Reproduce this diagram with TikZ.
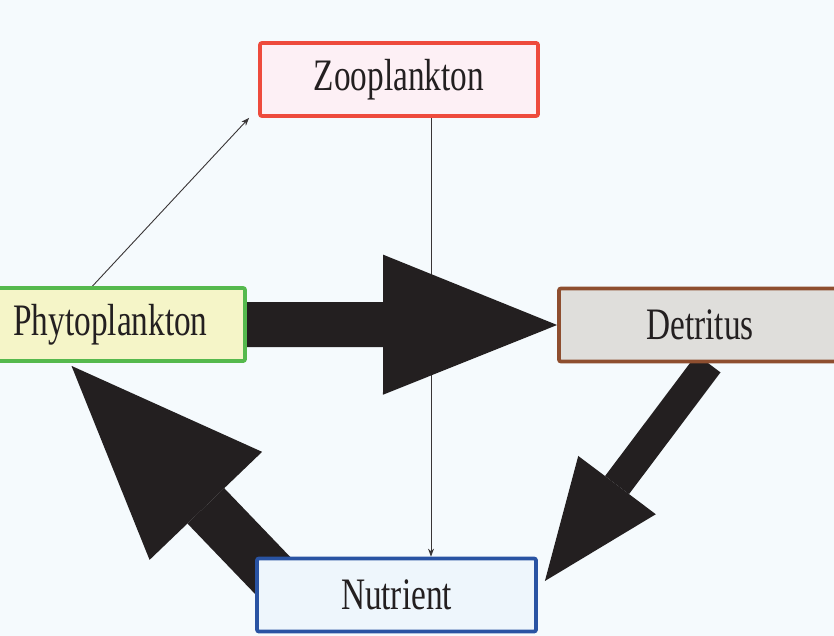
\documentclass[tikz,border=0pt]{standalone}
\usepackage{fontspec}
\setmainfont[FakeStretch=0.74]{Liberation Serif}
\usepackage{xcolor}
\usetikzlibrary{arrows.meta,calc}

\definecolor{bgblue}{HTML}{F5FAFD}
\definecolor{ink}{HTML}{231F20}
\definecolor{zoofill}{HTML}{FDF0F5}
\definecolor{zooline}{HTML}{EE4B3D}
\definecolor{phyfill}{HTML}{F5F5C8}
\definecolor{phyline}{HTML}{55B94D}
\definecolor{detfill}{HTML}{DFDEDB}
\definecolor{detline}{HTML}{8E4E2F}
\definecolor{nutfill}{HTML}{EEF6FC}
\definecolor{nutline}{HTML}{2953A3}

\pgfdeclarelayer{back}
\pgfsetlayers{back,main}

\begin{document}
\begin{tikzpicture}[x=1pt,y=-1pt,
    box/.style={draw,line width=3.8pt,rounded corners=2pt,minimum height=73pt,
      text=ink,font=\fontsize{45}{50}\selectfont,inner sep=0pt},
    thin/.style={draw=ink!90,line width=0.9pt,-{Stealth[length=8pt,width=6pt]}},
    flux/.style={draw=ink,line width=#1}]
  \useasboundingbox (0,0) rectangle (834,636);
  \clip (0,0) rectangle (834,636);

  % compartments
  \node[box,draw=zooline,fill=zoofill,minimum width=278pt] (zoo) at (399,79.5) {Zooplankton};
  \node[box,draw=phyline,fill=phyfill,minimum width=269pt] (phy) at (110.5,324.5) {Phytoplankton};
  \node[box,draw=detline,fill=detfill,minimum width=282pt] (det) at (700,325) {Detritus};
  \node[box,draw=nutline,fill=nutfill,minimum width=279pt] (nut) at (396.5,595) {Nutrient};

  \begin{pgfonlayer}{back}
    \fill[bgblue] (0,0) rectangle (834,636);
    % thin fluxes
    \coordinate (grz) at ($(zoo.south)+(32,0)$);
    \draw[thin] ($(phy.north)+(-18,0)$) -- ($(zoo.south west)+(-9,0)$);
    \draw[thin] (grz) -- (grz |- nut.north);
    % big fluxes
    \draw[flux=45pt,-{Triangle[length=174pt,width=140pt,line width=0pt]}] (phy.east) -- (det.west);
    \draw[flux=30pt,-{Triangle[length=120pt,width=97pt,line width=0pt]}]
      ($(det.south)+(8.5,0)$) -- ($(nut.east)+(7,-14)$);
    \draw[flux=51pt,-{Triangle[length=194pt,width=156pt,line width=0pt]}]
      ($(nut.center)+(-119.5,-15)$) -- ($(phy.south)+(-39,3)$);
  \end{pgfonlayer}
\end{tikzpicture}
\end{document}
